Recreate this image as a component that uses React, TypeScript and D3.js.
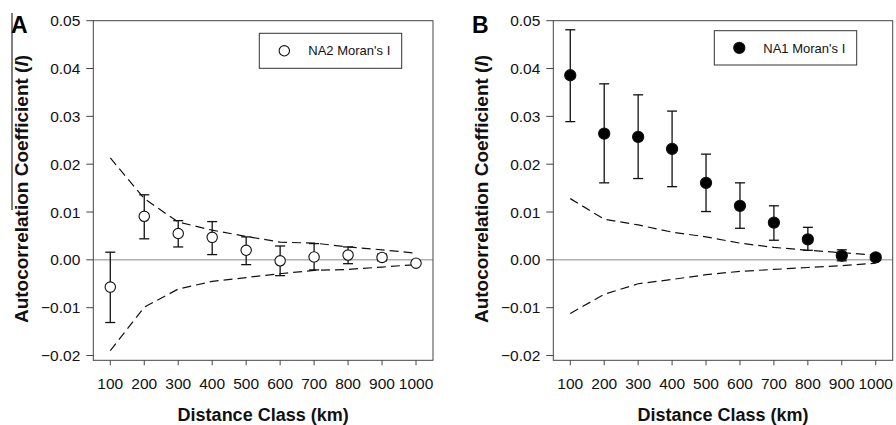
import React from "react";
import * as d3 from "d3";

const distances = [100, 200, 300, 400, 500, 600, 700, 800, 900, 1000];
const xTicks = [100, 200, 300, 400, 500, 600, 700, 800, 900, 1000];
const yTicks = [-0.02, -0.01, 0, 0.01, 0.02, 0.03, 0.04, 0.05];

// Panel A: NA2
const na2I = [-0.0057, 0.0091, 0.0055, 0.0047, 0.002, -0.0002, 0.0006, 0.001, 0.0005, -0.0007];
const na2ErrHi = [0.0016, 0.0136, 0.0082, 0.008, 0.0048, 0.0029, 0.0034, 0.0027, 0.0012, -0.0004];
const na2ErrLo = [-0.0131, 0.0044, 0.0027, 0.0011, -0.001, -0.0033, -0.0021, -0.0008, -0.0002, -0.001];
const na2CiHi = [0.0213, 0.0128, 0.0079, 0.0062, 0.0049, 0.0037, 0.0035, 0.0027, 0.0021, 0.0014];
const na2CiLo = [-0.019, -0.0099, -0.0061, -0.0045, -0.0037, -0.0029, -0.0022, -0.002, -0.0015, -0.001];

// Panel B: NA1
const na1I = [0.0386, 0.0264, 0.0257, 0.0232, 0.0161, 0.0113, 0.0078, 0.0043, 0.0009, 0.0005];
const na1ErrHi = [0.0481, 0.0368, 0.0345, 0.0311, 0.0221, 0.0161, 0.0113, 0.0068, 0.0021, 0.0008];
const na1ErrLo = [0.0289, 0.0161, 0.017, 0.0153, 0.0101, 0.0066, 0.0041, 0.002, -0.0002, 0.0002];
const na1CiHi = [0.0128, 0.0085, 0.0073, 0.0058, 0.0048, 0.0035, 0.0026, 0.002, 0.0015, 0.001];
const na1CiLo = [-0.0112, -0.0072, -0.005, -0.0041, -0.0031, -0.0024, -0.002, -0.0016, -0.0012, -0.0007];

const FONT = "'Liberation Sans', Arial, Helvetica, sans-serif";

type PanelProps = {
  letter: string;
  left: number;
  right: number;
  letterX: number;
  titleX: number;
  legendLabel: string;
  filled: boolean;
  legendBox: { x0: number; x1: number; y0: number; y1: number };
  vals: number[];
  errHi: number[];
  errLo: number[];
  ciHi: number[];
  ciLo: number[];
};

function Panel(p: PanelProps) {
  const top = 20.7;
  const bottom = 360.3;
  const x = d3.scaleLinear().domain([50, 1050]).range([p.left, p.right]);
  const y = d3.scaleLinear().domain([-0.021, 0.05]).range([bottom, top]);
  const line = d3
    .line<number>()
    .x((_, i) => x(distances[i]))
    .y((d) => y(d));
  const fmt = d3.format(".2f");
  const cap = 5;
  const r = p.filled ? 5.6 : 5.2;
  const lb = p.legendBox;
  const lcy = (lb.y0 + lb.y1) / 2;
  return (
    <g>
      {/* zero reference line */}
      <line x1={p.left} x2={p.right} y1={y(0)} y2={y(0)} stroke="#8a8a8a" strokeWidth={1} />
      {/* frame */}
      <rect x={p.left} y={top} width={p.right - p.left} height={bottom - top} fill="none" stroke="#444" strokeWidth={1} />
      {/* y ticks */}
      {yTicks.map((t) => (
        <g key={t}>
          <line x1={p.left - 7} x2={p.left} y1={y(t)} y2={y(t)} stroke="#444" />
          <text x={p.left - 13} y={y(t)} dy="0.36em" textAnchor="end" fontSize={15.5} fontFamily={FONT} fill="#111">
            {fmt(t)}
          </text>
        </g>
      ))}
      {/* x ticks */}
      {xTicks.map((t) => (
        <g key={t}>
          <line x1={x(t)} x2={x(t)} y1={bottom} y2={bottom + 5} stroke="#444" />
          <text x={x(t)} y={383} dy="0.36em" textAnchor="middle" fontSize={15.5} fontFamily={FONT} fill="#111">
            {t}
          </text>
        </g>
      ))}
      {/* dashed confidence envelopes */}
      <path d={line(p.ciHi) || ""} fill="none" stroke="#111" strokeWidth={1.2} strokeDasharray="9,5" />
      <path d={line(p.ciLo) || ""} fill="none" stroke="#111" strokeWidth={1.2} strokeDasharray="9,5" />
      {/* error bars */}
      {distances.map((d, i) => (
        <g key={d} stroke="#111" strokeWidth={1.3}>
          <line x1={x(d)} x2={x(d)} y1={y(p.errHi[i])} y2={y(p.errLo[i])} />
          <line x1={x(d) - cap} x2={x(d) + cap} y1={y(p.errHi[i])} y2={y(p.errHi[i])} />
          <line x1={x(d) - cap} x2={x(d) + cap} y1={y(p.errLo[i])} y2={y(p.errLo[i])} />
        </g>
      ))}
      {/* points */}
      {distances.map((d, i) => (
        <circle
          key={d}
          cx={x(d)}
          cy={y(p.vals[i])}
          r={r}
          fill={p.filled ? "#000" : "#fff"}
          stroke="#111"
          strokeWidth={1.1}
        />
      ))}
      {/* legend */}
      <rect x={lb.x0} y={lb.y0} width={lb.x1 - lb.x0} height={lb.y1 - lb.y0} fill="#fff" stroke="#333" strokeWidth={1} />
      <circle cx={lb.x0 + 25} cy={lcy} r={r} fill={p.filled ? "#000" : "#fff"} stroke="#111" strokeWidth={1.1} />
      <text x={lb.x0 + 49} y={lcy} dy="0.36em" fontSize={13} fontFamily={FONT} fill="#111">
        {p.legendLabel}
      </text>
      {/* axis titles */}
      <text
        x={(p.left + p.right) / 2}
        y={415}
        dy="0.36em"
        textAnchor="middle"
        fontSize={18}
        fontWeight="bold"
        fontFamily={FONT}
        fill="#111"
      >
        Distance Class (km)
      </text>
      <text
        transform={`translate(${p.titleX},189) rotate(-90)`}
        dy="0.36em"
        textAnchor="middle"
        fontSize={19}
        fontWeight="bold"
        fontFamily={FONT}
        fill="#111"
      >
        Autocorrelation Coefficient (<tspan fontStyle="italic">I</tspan>)
      </text>
      {/* panel letter */}
      <text x={p.letterX} y={33} fontSize={23} fontWeight="bold" fontFamily={FONT} fill="#000">
        {p.letter}
      </text>
    </g>
  );
}

export default function App() {
  return (
    <svg
      width={896}
      height={425}
      viewBox="0 0 896 425"
      style={{ position: "absolute", left: 0, top: 0, background: "#fff" }}
    >
      <rect x={0} y={0} width={896} height={425} fill="#fff" />
      <Panel
        letter="A"
        left={93.3}
        right={433}
        letterX={11}
        titleX={21}
        legendLabel="NA2 Moran's I"
        filled={false}
        legendBox={{ x0: 259.3, x1: 401.7, y0: 33.3, y1: 68.3 }}
        vals={na2I}
        errHi={na2ErrHi}
        errLo={na2ErrLo}
        ciHi={na2CiHi}
        ciLo={na2CiLo}
      />
      <Panel
        letter="B"
        left={553.3}
        right={892.7}
        letterX={472}
        titleX={481}
        legendLabel="NA1 Moran's I"
        filled={true}
        legendBox={{ x0: 714.3, x1: 856.7, y0: 30.7, y1: 65 }}
        vals={na1I}
        errHi={na1ErrHi}
        errLo={na1ErrLo}
        ciHi={na1CiHi}
        ciLo={na1CiLo}
      />
      {/* thin vertical rule at far left, as in the source image */}
      <line x1={12} x2={12} y1={13} y2={210} stroke="#000" strokeWidth={1} />
    </svg>
  );
}
